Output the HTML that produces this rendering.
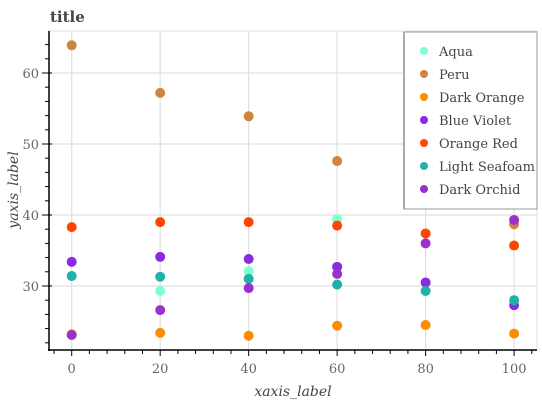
<!DOCTYPE html>
<html><head><meta charset="utf-8"><style>
body{margin:0;background:#fff;}
svg{display:block;font-family:"DejaVu Serif","Liberation Serif",serif;}
</style></head><body>
<svg id="chart" width="542" height="400" viewBox="0 0 542 400">
<text x="50" y="22" font-size="15" font-weight="bold" fill="#444">title</text>
<g id="grid"></g>
<g id="axes"></g>
<g id="marks"></g>
<text x="293" y="396" font-size="14" font-style="italic" fill="#444" text-anchor="middle">xaxis_label</text>
<text transform="translate(18,190) rotate(-90)" font-size="14" font-style="italic" fill="#444" text-anchor="middle">yaxis_label</text>
<g id="legend"></g>
</svg>
<script>
const xCats=[0,20,40,60,80,100];
const xTicks=[0,20,40,60,80,100];
const yTicks=[30,40,50,60];
const seriesNames=["Aqua","Peru","Dark Orange","Blue Violet","Orange Red","Light Seafoam","Dark Orchid"];
const seriesColors=["#7fffd4","#cd853f","#ff8c00","#8a2be2","#ff4500","#20b2aa","#9932cc"];
const aqua=[null,29.3,32.1,39.4,null,null];
const peru=[63.9,57.2,53.9,47.6,null,38.7];
const darkOrange=[23.2,23.4,23.0,24.4,24.5,23.3];
const blueViolet=[33.4,34.1,33.8,32.7,30.5,27.3];
const orangeRed=[38.3,39.0,39.0,38.5,37.4,35.7];
const lightSeafoam=[31.4,31.3,31.0,30.2,29.3,28.0];
const darkOrchid=[23.1,26.6,29.7,31.7,36.0,39.3];
const allSeries=[aqua,peru,darkOrange,blueViolet,orangeRed,lightSeafoam,darkOrchid];

const NS="http://www.w3.org/2000/svg";
const L=49,R=537,T=31,B=350;
function xs(v){return 71.7+(v-0)*4.424;}
function ys(v){return 215-(v-40)*7.1;}
function mk(tag,attrs,parent){const e=document.createElementNS(NS,tag);for(const k in attrs)e.setAttribute(k,attrs[k]);parent.appendChild(e);return e;}
const grid=document.getElementById('grid'),axes=document.getElementById('axes'),marks=document.getElementById('marks'),legend=document.getElementById('legend');
mk('rect',{x:L,y:T,width:R-L,height:B-T,fill:'none',stroke:'#e0e0e0'},grid);
xTicks.forEach(t=>{const l=mk('line',{x1:xs(t),x2:xs(t),y1:T,y2:B,stroke:'#e0e0e0','stroke-width':1.2},grid);

});
yTicks.forEach(t=>{const l=mk('line',{x1:L,x2:R,y1:ys(t),y2:ys(t),stroke:'#e0e0e0','stroke-width':1.2},grid);

});
mk('line',{x1:L,x2:L,y1:T,y2:B+1,stroke:'#000','stroke-width':1.5},axes);
mk('line',{x1:L-1,x2:R,y1:B,y2:B,stroke:'#000','stroke-width':1.5},axes);
for(let v=22;v<=64;v+=2){const major=yTicks.includes(v);mk('line',{x1:major?L-7:L-4,x2:major?L+3:L,y1:ys(v),y2:ys(v),stroke:'#000','stroke-width':1},axes);}
for(let v=-4;v<=104;v+=4){const major=xTicks.includes(v);mk('line',{x1:xs(v),x2:xs(v),y1:B,y2:B+(major?6:4),stroke:'#000','stroke-width':1},axes);}
yTicks.forEach(t=>{const e=mk('text',{x:L-10,y:ys(t)+5,'font-size':13,fill:'#666','text-anchor':'end'},axes);e.textContent=t;

});
xTicks.forEach(t=>{const e=mk('text',{x:xs(t),y:373,'font-size':13,fill:'#666','text-anchor':'middle'},axes);e.textContent=t;

});
allSeries.forEach((s,i)=>{s.forEach((v,j)=>{if(v===null)return;const c=mk('circle',{cx:xs(xCats[j]),cy:ys(v),r:5,fill:seriesColors[i]},marks);

});});
const box=mk('rect',{x:404,y:32,width:133,height:177,fill:'#fff',stroke:'#999','stroke-width':1},legend);
mk('line',{x1:404,x2:404,y1:32,y2:209,stroke:'#aaa','stroke-width':2},legend);
seriesNames.forEach((n,i)=>{const y=51+i*23;
const c=mk('circle',{cx:424,cy:y,r:4,fill:seriesColors[i]},legend);


const t=mk('text',{x:439,y:y+5,'font-size':13,fill:'#444'},legend);t.textContent=n;

});
</script>
</body></html>
